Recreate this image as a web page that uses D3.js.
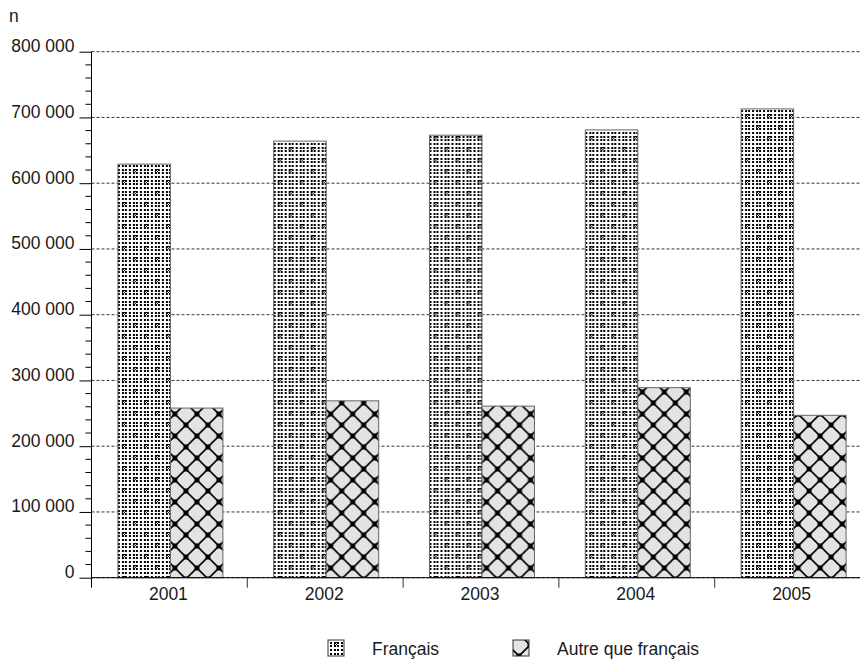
<!DOCTYPE html>
<html>
<head>
<meta charset="utf-8">
<script src="https://cdn.jsdelivr.net/npm/d3@7"></script>
<style>
  body { margin: 0; background: #fff; }
  text { font-family: "Liberation Sans", Arial, sans-serif; fill: #1a1a1a; }
</style>
</head>
<body>
<script>
// data
const years = ['2001', '2002', '2003', '2004', '2005'];
const series = ['Français', 'Autre que français'];
const francais = [629000, 664000, 673000, 681000, 713000];
const autre = [258000, 269000, 261000, 289000, 247000];
const yTicks = [0, 100000, 200000, 300000, 400000, 500000, 600000, 700000, 800000];

const width = 860, height = 659;
const x0 = 91.5, band = 155.8;
const fs = 17.5;

const svg = d3.select('body').append('svg')
    .attr('width', width)
    .attr('height', height);

// patterns
const defs = svg.append('defs');
const pFr = defs.append('pattern')
    .attr('id', 'pat-fr')
    .attr('patternUnits', 'userSpaceOnUse')
    .attr('width', 22).attr('height', 22);
pFr.append('rect').attr('width', 22).attr('height', 22).attr('fill', '#fff');
const dotPos = [0, 4, 7, 11, 15, 18];
dotPos.forEach(dx => dotPos.forEach(dy => {
    pFr.append('rect').attr('x', dx).attr('y', dy).attr('width', 2).attr('height', 2).attr('fill', '#000');
}));
// small crosses between dots
[[5.5, 5.5], [16.5, 16.5]].forEach(([cx, cy]) => {
    pFr.append('path')
        .attr('d', `M${cx - 1.5},${cy - 1.5}L${cx + 1.5},${cy + 1.5}M${cx + 1.5},${cy - 1.5}L${cx - 1.5},${cy + 1.5}`)
        .attr('stroke', '#000').attr('stroke-width', 1);
});

const pAu = defs.append('pattern')
    .attr('id', 'pat-au')
    .attr('patternUnits', 'userSpaceOnUse')
    .attr('x', 2).attr('y', 7)
    .attr('width', 22).attr('height', 22);
pAu.append('rect').attr('width', 22).attr('height', 22).attr('fill', '#e3e3e3');
pAu.append('path')
    .attr('d', 'M0,0L22,22M22,0L0,22')
    .attr('stroke', '#000').attr('stroke-width', 1.6);
[[11, 11], [0, 0], [22, 0], [0, 22], [22, 22]].forEach(([cx, cy]) => {
    pAu.append('rect').attr('x', cx - 2.5).attr('y', cy - 2.5)
        .attr('width', 5).attr('height', 5).attr('fill', '#000');
});

const y = d3.scaleLinear().domain([0, 800000]).range([577.7, 51.7]);
const x = d3.scaleBand().domain(years).range([x0, x0 + band * years.length]).padding(0);
const xs = d3.scaleBand().domain(series).range([0, 105]);
const fills = ['url(#pat-fr)', 'url(#pat-au)'];
const fmt = v => d3.format(',')(v).replace(/,/g, ' ');

// gridlines
svg.append('g').selectAll('line')
    .data(yTicks)
    .join('line')
    .attr('x1', x0).attr('x2', width)
    .attr('y1', d => y(d)).attr('y2', d => y(d))
    .attr('stroke', '#333')
    .attr('stroke-dasharray', '3,2');

// bars
const table = years.map((yr, i) => ({ year: yr, values: [francais[i], autre[i]] }));
const groups = svg.append('g').selectAll('g')
    .data(table)
    .join('g')
    .attr('transform', d => `translate(${x(d.year) + (x.bandwidth() - 105) / 2 + 1},0)`);
groups.selectAll('rect')
    .data(d => d.values.map((v, j) => ({ key: series[j], v, j })))
    .join('rect')
    .attr('x', d => xs(d.key))
    .attr('width', xs.bandwidth())
    .attr('y', d => y(d.v))
    .attr('height', d => y(0) - y(d.v))
    .attr('fill', d => fills[d.j])
    .attr('stroke', '#666')
    .attr('stroke-width', 1);

// y axis with minor ticks
const yAxis = d3.axisLeft(y)
    .tickValues(yTicks)
    .tickSize(12)
    .tickFormat(fmt);
const gy = svg.append('g').attr('transform', `translate(${x0},0)`).call(yAxis);
gy.select('.domain').remove();
gy.selectAll('.tick line').attr('stroke', '#000');
gy.selectAll('.tick text')
    .attr('font-size', fs)
    .attr('dy', 0)
    .attr('x', -17)
    .attr('fill', '#1a1a1a');
const minor = d3.range(0, 800000, 20000).filter(v => v % 100000 !== 0);
svg.append('g').selectAll('line')
    .data(minor)
    .join('line')
    .attr('x1', x0 - 6).attr('x2', x0)
    .attr('y1', d => y(d)).attr('y2', d => y(d))
    .attr('stroke', '#000');
svg.append('line')
    .attr('x1', x0).attr('x2', x0)
    .attr('y1', y(800000)).attr('y2', y(0) + 10)
    .attr('stroke', '#000');

// x axis
svg.append('line')
    .attr('x1', x0).attr('x2', width)
    .attr('y1', y(0)).attr('y2', y(0))
    .attr('stroke', '#000');
svg.append('g').selectAll('line')
    .data(years.slice(1))
    .join('line')
    .attr('x1', d => x(d)).attr('x2', d => x(d))
    .attr('y1', y(0)).attr('y2', y(0) + 10)
    .attr('stroke', '#333');
svg.append('g').selectAll('text')
    .data(years)
    .join('text')
    .attr('x', d => x(d) + x.bandwidth() / 2 - 1)
    .attr('y', 600)
    .attr('text-anchor', 'middle')
    .attr('font-size', fs)
    .text(d => d);

// unit label
svg.append('text')
    .attr('x', 9).attr('y', 22)
    .attr('font-size', fs)
    .text('n');

// legend
const legend = [
    { label: series[0], fill: fills[0], sx: 328, tx: 372 },
    { label: series[1], fill: fills[1], sx: 513, tx: 557 }
];
const lg = svg.append('g').selectAll('g').data(legend).join('g');
lg.append('rect')
    .attr('x', d => d.sx).attr('y', 640)
    .attr('width', 16).attr('height', 16)
    .attr('fill', d => d.fill)
    .attr('stroke', '#333');
lg.append('text')
    .attr('x', d => d.tx).attr('y', 655)
    .attr('font-size', fs)
    .text(d => d.label);
</script>
</body>
</html>
